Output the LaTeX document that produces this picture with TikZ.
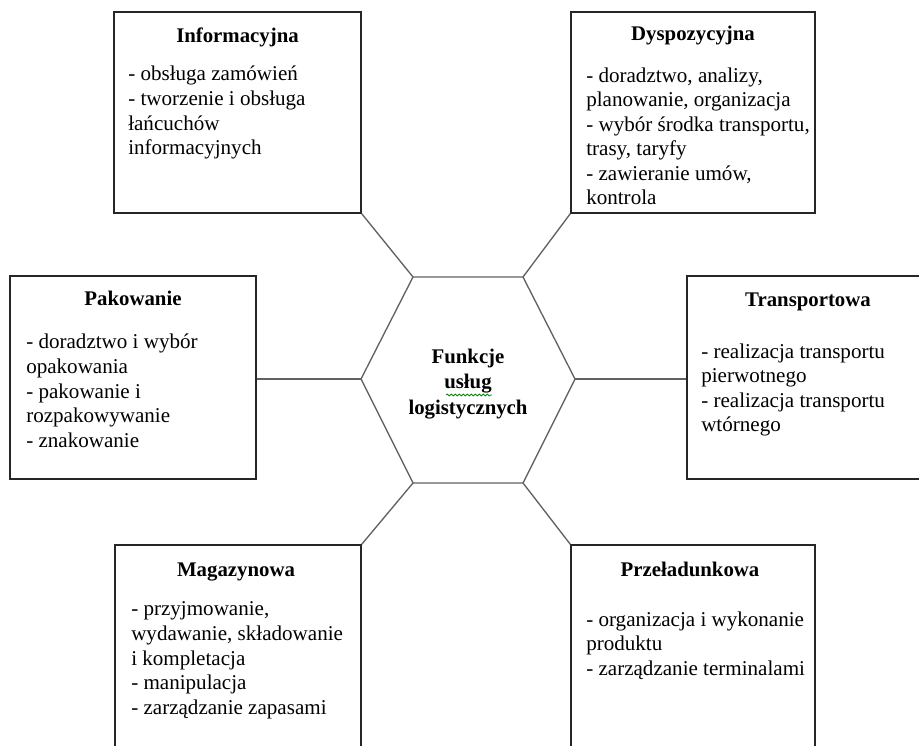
\documentclass[tikz,border=0pt]{standalone}
\usepackage{fontspec}
\setmainfont{Liberation Serif}
\usetikzlibrary{fit,decorations.pathmorphing}
\begin{document}
\begin{tikzpicture}[x=0.75pt,y=-0.75pt,
  box/.style={draw=black!85,line width=1.1pt,rectangle,inner sep=0pt},
  link/.style={draw=black!62,line width=1pt},
  ttl/.style={font=\fontsize{15.6}{18.4}\selectfont\bfseries,anchor=base,inner sep=0pt},
  body/.style={font=\fontsize{15.8}{18.4}\selectfont,align=left,anchor=base west,inner sep=0pt},
  hubtext/.style={font=\fontsize{15.6}{19}\selectfont\bfseries,align=center,inner sep=0pt},
]
\useasboundingbox (0,0) rectangle (919,745);
\clip (0,0) rectangle (919,745);

% hexagon
\coordinate (hl) at (361,379);
\coordinate (htl) at (413,277);
\coordinate (htr) at (523,277);
\coordinate (hr) at (575,379);
\coordinate (hbr) at (523,483);
\coordinate (hbl) at (413,483);
\draw[link] (hl) -- (htl) -- (htr) -- (hr) -- (hbr) -- (hbl) -- cycle;

% boxes
\node[box, fit={(114,12) (361,213)}] (inf) {};
\node[box, fit={(571,12) (815,213)}] (dys) {};
\node[box, fit={(10,276) (256,479)}] (pak) {};
\node[box, fit={(687,276) (929,479)}] (tra) {};
\node[box, fit={(115,545) (361,770)}] (mag) {};
\node[box, fit={(571,545) (815,770)}] (prz) {};

% connectors
\draw[link] (inf.south east) -- (htl);
\draw[link] (dys.south west) -- (htr);
\draw[link] (pak.east |- hl) -- (hl);
\draw[link] (tra.west |- hr) -- (hr);
\draw[link] (mag.north east) -- (hbl);
\draw[link] (prz.north west) -- (hbr);

% hub text
\node[hubtext] (hub) at (468,384) {Funkcje\\usług\\logistycznych};
\draw[green!55!black, line width=0.6pt, decorate, decoration={snake,amplitude=0.7pt,segment length=3pt}] (446,395) -- (492,395);

% titles
\node[ttl] (tinf) at (237.5,43) {Informacyjna};
\node[ttl] (tdys) at (693,41) {Dyspozycyjna};
\node[ttl] (tpak) at (133,305) {Pakowanie};
\node[ttl] (ttra) at (808,306) {Transportowa};
\node[ttl] (tmag) at (236,576) {Magazynowa};
\node[ttl] (tprz) at (690,576) {Przeładunkowa};

% bodies (anchor = baseline of the last line)
\node[body] (binf) at (128,154.6) {- obsługa zamówień\\- tworzenie i obsługa\\łańcuchów\\informacyjnych};
\node[body] (bdys) at (586,204.7) {- doradztwo, analizy,\\planowanie, organizacja\\- wybór środka transportu,\\trasy, taryfy\\- zawieranie umów,\\kontrola};
\node[body] (bpak) at (26,447.1) {- doradztwo i wybór\\opakowania\\- pakowanie i\\rozpakowywanie\\- znakowanie};
\node[body] (btra) at (701,431.6) {- realizacja transportu\\pierwotnego\\- realizacja transportu\\wtórnego};
\node[body] (bmag) at (131,714.1) {- przyjmowanie,\\wydawanie, składowanie\\i kompletacja\\- manipulacja\\- zarządzanie zapasami};
\node[body] (bprz) at (586,675.1) {- organizacja i wykonanie\\produktu\\- zarządzanie terminalami};
\end{tikzpicture}
\end{document}
